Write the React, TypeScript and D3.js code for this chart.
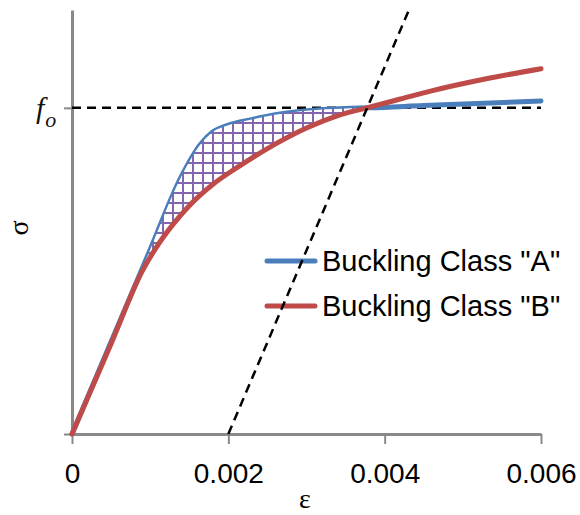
import React, { useEffect, useRef } from 'react';
import * as d3 from 'd3';

// values (stress normalised so that f_o = 1)
const strainA = [0, 0.0005, 0.001, 0.0014, 0.00165, 0.0018, 0.002, 0.0023, 0.0026, 0.003, 0.0035, 0.0038, 0.0045, 0.006];
const stressA = [0, 0.283, 0.565, 0.79, 0.89, 0.926, 0.947, 0.964, 0.979, 0.991, 0.998, 1.0, 1.007, 1.021];

const strainB = [0, 0.0005, 0.0009, 0.0011, 0.0013, 0.0015, 0.0018, 0.0021, 0.0025, 0.003, 0.0034, 0.00377, 0.0042, 0.0046, 0.0053, 0.006];
const stressB = [0, 0.277, 0.5, 0.58, 0.645, 0.7, 0.765, 0.815, 0.875, 0.938, 0.976, 1.0, 1.027, 1.052, 1.089, 1.12];

// 0.2% offset line
const offsetStrain = [0.002, 0.00431];
const offsetStress = [0, 1.3];

const foStress = 1;
const xTicks = [0, 0.002, 0.004, 0.006];
const xTickLabels = ['0', '0.002', '0.004', '0.006'];
const yTicks = [0, foStress];
const seriesNames = ['Buckling Class "A"', 'Buckling Class "B"'];
const seriesColors = ['#4a7ebb', '#be4b48'];

function App() {
  const chartRef = useRef<HTMLDivElement>(null);

  useEffect(() => {
    const el = chartRef.current;
    if (!el) return;
    el.innerHTML = '';
    const width = 580;
    const height = 515;
    const svg = d3.select(el).append('svg').attr('width', width).attr('height', height);

    const x = d3.scaleLinear().domain([0, 0.006]).range([72, 541]);
    const y = d3.scaleLinear().domain([0, 1.3]).range([434, 10]);

    const ptsA: [number, number][] = strainA.map((e, i) => [e, stressA[i]]);
    const ptsB: [number, number][] = strainB.map((e, i) => [e, stressB[i]]);

    const defs = svg.append('defs');
    const pat = defs.append('pattern')
      .attr('id', 'hatch')
      .attr('patternUnits', 'userSpaceOnUse')
      .attr('width', 10)
      .attr('height', 10);
    pat.append('rect').attr('width', 10).attr('height', 10).attr('fill', '#fff');
    pat.append('rect').attr('x', 2).attr('y', 0).attr('width', 2).attr('height', 10).attr('fill', '#8466ae');
    pat.append('rect').attr('x', 0).attr('y', 2).attr('width', 10).attr('height', 2).attr('fill', '#8466ae');

    const aboveB = d3.area<[number, number]>()
      .x(d => x(d[0]))
      .y0(y(1.3))
      .y1(d => y(d[1]))
      .curve(d3.curveMonotoneX);
    defs.append('clipPath').attr('id', 'aboveB')
      .append('path').attr('d', aboveB(ptsB));

    // axes
    const xAxis = d3.axisBottom(x)
      .tickValues(xTicks)
      .tickFormat((d, i) => xTickLabels[i])
      .tickSize(10)
      .tickSizeOuter(0)
      .tickPadding(19);
    const gx = svg.append('g').attr('transform', 'translate(0,434)').call(xAxis);
    gx.select('.domain').attr('stroke', '#898989').attr('stroke-width', 3);
    gx.selectAll('line').attr('stroke', '#898989').attr('stroke-width', 2);
    gx.selectAll('text')
      .attr('fill', '#000')
      .attr('font-size', 28)
      .attr('font-family', '"Liberation Sans", Arial, sans-serif');

    const yAxis = d3.axisLeft(y).tickValues(yTicks).tickFormat(() => '').tickSize(8).tickSizeOuter(0);
    const gy = svg.append('g').attr('transform', 'translate(72,0)').call(yAxis);
    gy.select('.domain').attr('stroke', '#898989').attr('stroke-width', 3);
    gy.selectAll('line').attr('stroke', '#898989').attr('stroke-width', 2);

    // f_o dashed level
    svg.append('line')
      .attr('x1', x(0)).attr('x2', x(0.006))
      .attr('y1', y(foStress)).attr('y2', y(foStress))
      .attr('stroke', '#000').attr('stroke-width', 2.5).attr('stroke-dasharray', '9,6');

    const line = d3.line<[number, number]>()
      .x(d => x(d[0]))
      .y(d => y(d[1]))
      .curve(d3.curveMonotoneX);

    svg.append('path').attr('d', line(ptsA))
      .attr('fill', 'none').attr('stroke', seriesColors[0]).attr('stroke-width', 5).attr('stroke-linecap', 'round');

    const underA = d3.area<[number, number]>()
      .x(d => x(d[0]))
      .y0(y(0))
      .y1(d => y(d[1]))
      .curve(d3.curveMonotoneX);
    svg.append('path').attr('d', underA(ptsA))
      .attr('fill', 'url(#hatch)').attr('clip-path', 'url(#aboveB)');

    svg.append('path').attr('d', line(ptsB))
      .attr('fill', 'none').attr('stroke', seriesColors[1]).attr('stroke-width', 5).attr('stroke-linecap', 'round');

    // legend
    seriesNames.forEach((name, i) => {
      const ly = 261 + i * 45;
      svg.append('line')
        .attr('x1', 267).attr('x2', 315).attr('y1', ly).attr('y2', ly)
        .attr('stroke', seriesColors[i]).attr('stroke-width', 5).attr('stroke-linecap', 'round');
      svg.append('text')
        .attr('x', 322).attr('y', ly + 10)
        .attr('font-size', 29)
        .attr('font-family', '"Liberation Sans", Arial, sans-serif')
        .attr('fill', '#000')
        .text(name);
    });

    // offset line
    svg.append('line')
      .attr('x1', x(offsetStrain[0])).attr('y1', y(offsetStress[0]))
      .attr('x2', x(offsetStrain[1])).attr('y2', y(offsetStress[1]))
      .attr('stroke', '#000').attr('stroke-width', 2.5).attr('stroke-dasharray', '9,6');

    // axis labels
    const fo = svg.append('text').attr('x', 36).attr('y', 118)
      .attr('font-family', '"Liberation Serif", serif').attr('font-style', 'italic').attr('fill', '#111');
    fo.append('tspan').attr('font-size', 30).text('f');
    fo.append('tspan').attr('font-size', 22).attr('dx', 1).attr('dy', 9).text('o');

    svg.append('text')
      .attr('transform', 'translate(28,228) rotate(-90)')
      .attr('text-anchor', 'middle')
      .attr('font-size', 28)
      .attr('font-family', '"Liberation Serif", serif')
      .attr('fill', '#000')
      .text('σ');

    svg.append('text')
      .attr('x', 305).attr('y', 508)
      .attr('text-anchor', 'middle')
      .attr('font-size', 28)
      .attr('font-family', '"Liberation Serif", serif')
      .attr('fill', '#000')
      .text('ε');
  }, []);

  return (
    <div ref={chartRef} style={{ position: 'fixed', left: 0, top: 0, width: 580, height: 515, background: '#fff' }}></div>
  );
}

export default App;
